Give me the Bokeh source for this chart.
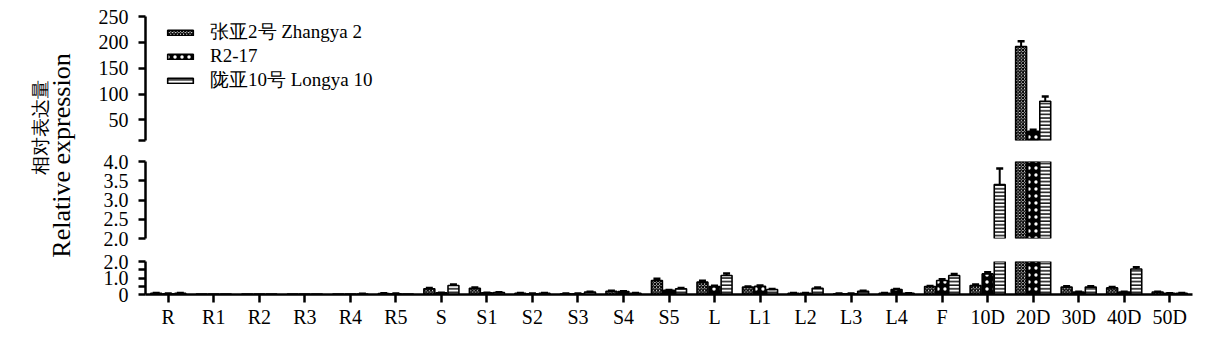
import math
from bokeh.plotting import figure
from bokeh.models import (ColumnDataSource, FactorRange, Range1d, FixedTicker, Legend,
                          LegendItem, Label, CDSView, BooleanFilter)
from bokeh.transform import dodge
from bokeh.layouts import row, column
from bokeh.embed import file_html
from bokeh.resources import INLINE

# ---------------- data ----------------
categories = ["R", "R1", "R2", "R3", "R4", "R5", "S", "S1", "S2", "S3", "S4", "S5",
              "L", "L1", "L2", "L3", "L4", "F", "10D", "20D", "30D", "40D", "50D"]

series_names = ["张亚2号 Zhangya 2", "R2-17", "陇亚10号 Longya 10"]

zhangya = [0.08, 0.02, 0.02, 0.02, 0.02, 0.06, 0.35, 0.38, 0.08, 0.05, 0.20, 0.85,
           0.75, 0.45, 0.08, 0.05, 0.08, 0.48, 0.55, 192.0, 0.45, 0.40, 0.15]
zhangya_err = [0.01, 0.0, 0.0, 0.0, 0.0, 0.01, 0.04, 0.04, 0.01, 0.01, 0.02, 0.10,
               0.08, 0.04, 0.01, 0.01, 0.01, 0.04, 0.05, 10.0, 0.05, 0.05, 0.02]

r217 = [0.05, 0.02, 0.02, 0.02, 0.02, 0.05, 0.10, 0.10, 0.05, 0.05, 0.18, 0.25,
        0.48, 0.50, 0.08, 0.05, 0.30, 0.85, 1.25, 28.0, 0.15, 0.15, 0.07]
r217_err = [0.01, 0.0, 0.0, 0.0, 0.0, 0.01, 0.01, 0.01, 0.01, 0.01, 0.02, 0.03,
            0.05, 0.05, 0.01, 0.01, 0.04, 0.08, 0.10, 3.0, 0.02, 0.02, 0.01]

longya = [0.08, 0.02, 0.02, 0.02, 0.03, 0.02, 0.55, 0.12, 0.08, 0.15, 0.08, 0.35,
          1.15, 0.30, 0.38, 0.20, 0.07, 1.15, 3.40, 86.0, 0.45, 1.55, 0.08]
longya_err = [0.01, 0.0, 0.0, 0.0, 0.01, 0.0, 0.05, 0.02, 0.01, 0.02, 0.01, 0.04,
              0.12, 0.04, 0.04, 0.03, 0.01, 0.10, 0.42, 9.0, 0.05, 0.10, 0.01]

top_ticks = [10, 50, 100, 150, 200, 250]
mid_ticks = [2.0, 2.5, 3.0, 3.5, 4.0]
bot_ticks = [0.0, 1.0, 2.0]
bot_minor = [0.5, 1.5]

# ---------------- styling ----------------
FONT = "Liberation Serif"
offsets = [-0.265, 0.0, 0.265]
bar_w = 0.24
styles = [
    dict(fill_color="white", hatch_pattern="diagonal_cross", hatch_color="black",
         hatch_scale=3.2, hatch_weight=1.3),
    dict(fill_color="black", hatch_pattern="dot", hatch_color="white",
         hatch_scale=7, hatch_weight=3),
    dict(fill_color="white", hatch_pattern="horizontal_line", hatch_color="black",
         hatch_scale=3.6, hatch_weight=1.4),
]

data = dict(cat=categories)
vals = [zhangya, r217, longya]
errs = [zhangya_err, r217_err, longya_err]
tops = []
for i, (v, e) in enumerate(zip(vals, errs)):
    t = [a + b for a, b in zip(v, e)]
    tops.append(t)
    data[f"v{i}"] = v
    data[f"t{i}"] = t
src = ColumnDataSource(data)

x_range = FactorRange(*categories, range_padding=0)

CW = 1137  # chart figure width


def make_fig(lo, hi, height, mb_top, mb_bottom, with_xaxis):
    p = figure(width=CW, height=height, x_range=x_range, y_range=Range1d(lo, hi),
               output_backend="svg", toolbar_location=None,
               x_axis_location="below" if with_xaxis else None,
               min_border_left=65, min_border_right=25,
               min_border_top=mb_top, min_border_bottom=mb_bottom)
    p.outline_line_color = None
    p.grid.visible = False
    p.background_fill_color = "white"
    p.border_fill_color = "white"
    renderers = []
    for i in range(3):
        v, t = vals[i], tops[i]
        bar_view = CDSView(filter=BooleanFilter([a > lo for a in v]))
        seg_view = CDSView(filter=BooleanFilter([(b > lo) and (a < hi) and (b > a)
                                                 for a, b in zip(v, t)]))
        cap_view = CDSView(filter=BooleanFilter([(lo < b < hi) and (b > a)
                                                 for a, b in zip(v, t)]))
        xd = dodge("cat", offsets[i], range=x_range)
        r = p.vbar(x=xd, top=f"v{i}", bottom=0, width=bar_w, source=src, view=bar_view,
                   line_color="black", line_width=1.6, **styles[i])
        renderers.append(r)
        p.segment(x0=xd, y0=f"v{i}", x1=xd, y1=f"t{i}", source=src, view=seg_view,
                  line_color="black", line_width=2)
        p.scatter(x=xd, y=f"t{i}", source=src, view=cap_view,
                  marker="dash", size=7, line_color="black", line_width=2.5)
    yax = p.yaxis[0]
    yax.axis_line_width = 2.5
    yax.major_tick_line_width = 2.5
    yax.minor_tick_line_width = 2.5
    yax.major_tick_out = 7
    yax.major_tick_in = 0
    yax.minor_tick_out = 7
    yax.minor_tick_in = 0
    yax.major_label_text_font = FONT
    yax.major_label_text_font_size = "20px"
    yax.major_label_text_color = "black"
    yax.major_label_standoff = 10
    yax.axis_line_color = "black"
    if with_xaxis:
        xax = p.xaxis[0]
        xax.axis_line_width = 2.5
        xax.major_tick_line_width = 2.5
        xax.major_tick_out = 8
        xax.major_tick_in = 0
        xax.major_label_text_font = FONT
        xax.major_label_text_font_size = "20px"
        xax.major_label_text_color = "black"
        xax.major_label_standoff = 3
    return p, renderers


# top segment
p_top, rends = make_fig(top_ticks[0], top_ticks[-1], 150, 16, 10, False)
p_top.yaxis[0].ticker = FixedTicker(ticks=top_ticks)
p_top.yaxis[0].major_label_overrides = {10: ""}

legend = Legend(items=[LegendItem(label=n, renderers=[r]) for n, r in zip(series_names, rends)],
                location=(19, 47), glyph_width=32, glyph_height=7, label_standoff=14,
                label_text_font=FONT, label_text_font_size="19px", label_height=18,
                label_text_color="black",
                spacing=0, padding=5, margin=0, border_line_color=None,
                background_fill_alpha=0)
p_top.add_layout(legend)

# middle segment
p_mid, _ = make_fig(mid_ticks[0], mid_ticks[-1], 100, 11, 12, False)
p_mid.yaxis[0].ticker = FixedTicker(ticks=mid_ticks)
p_mid.yaxis[0].major_label_overrides = {2.0: "2.0", 2.5: "2.5", 3.0: "3.0", 3.5: "3.5", 4.0: "4.0"}

# bottom segment
p_bot, _ = make_fig(bot_ticks[0], bot_ticks[-1], 94, 11, 50, True)
p_bot.yaxis[0].ticker = FixedTicker(ticks=bot_ticks, minor_ticks=bot_minor)
p_bot.yaxis[0].major_label_overrides = {0.0: "0", 1.0: "1.0", 2.0: "2.0"}

# y title panel
p_title = figure(width=80, height=344, x_range=(0, 80), y_range=(0, 344),
                 output_backend="svg", toolbar_location=None,
                 x_axis_type=None, y_axis_type=None, min_border=0)
p_title.outline_line_color = None
p_title.grid.visible = False
p_title.add_layout(Label(x=40, y=344 - 127, text="相对表达量", angle=math.pi / 2,
                         text_align="center", text_baseline="middle",
                         text_font=FONT, text_font_size="19px", text_color="black"))
p_title.add_layout(Label(x=61, y=344 - 155, text="Relative expression", angle=math.pi / 2,
                         text_align="center", text_baseline="middle",
                         text_font=FONT, text_font_size="26px", text_color="black"))

layout = row(p_title, column(p_top, p_mid, p_bot))

with open("out.html", "w") as f:
    f.write(file_html(layout, INLINE))
